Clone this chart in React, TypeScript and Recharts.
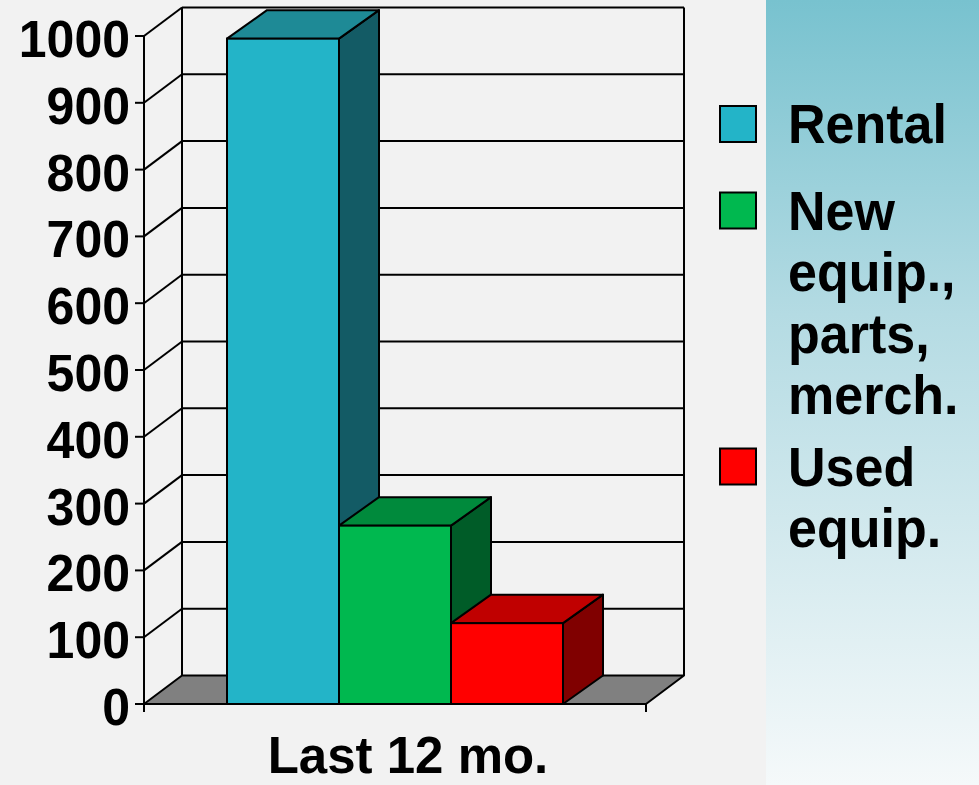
import React from 'react';
import { BarChart, Bar, XAxis, YAxis, CartesianGrid } from 'recharts';

// ---- data ----
const categories = ['Last 12 mo.'];
const seriesNames = ['Rental', 'New equip., parts, merch.', 'Used equip.'];
const rentalValues = [996];
const newEquipValues = [267];
const usedEquipValues = [121];
const yTicks = [0, 100, 200, 300, 400, 500, 600, 700, 800, 900, 1000];
const legendLines = [['Rental'], ['New', 'equip.,', 'parts,', 'merch.'], ['Used', 'equip.']];

// ---- styles / layout ----
const W = 979;
const H = 785;
const PLOT_TOP = 36;
const PLOT_BOTTOM = 704;
const WALL_DX = 38;
const BAR_DX = 40;
const DEPTH_DY = 28.5;
const FONT = '"Liberation Sans", Arial, sans-serif';

const FACES = [
  { front: '#23B4C8', top: '#1E8A96', side: '#135B65' },
  { front: '#00B84F', top: '#008A3C', side: '#005C28' },
  { front: '#FF0000', top: '#C00000', side: '#800000' },
];
const LEGEND_BASELINES = [143, 229.5, 485.5];
const LEGEND_LINE_H = 61.5;

const data = categories.map((c, i) => ({
  name: c,
  rental: rentalValues[i],
  newEquip: newEquipValues[i],
  used: usedEquipValues[i],
}));
const keys = ['rental', 'newEquip', 'used'];

function Box3D(props: any) {
  const { x, y, width, height, faces } = props;
  if (x == null || y == null) return null;
  const x2 = x + width;
  const yb = y + height;
  const sw = 2;
  return (
    <g>
      <polygon
        points={`${x2},${y} ${x2 + BAR_DX},${y - DEPTH_DY} ${x2 + BAR_DX},${yb - DEPTH_DY} ${x2},${yb}`}
        fill={faces.side}
        stroke="#000"
        strokeWidth={sw}
        strokeLinejoin="round"
      />
      <polygon
        points={`${x},${y} ${x + BAR_DX},${y - DEPTH_DY} ${x2 + BAR_DX},${y - DEPTH_DY} ${x2},${y}`}
        fill={faces.top}
        stroke="#000"
        strokeWidth={sw}
        strokeLinejoin="round"
      />
      <rect x={x} y={y} width={width} height={height} fill={faces.front} stroke="#000" strokeWidth={sw} />
    </g>
  );
}

function gridLine(props: any) {
  const { x1, x2, y1, key } = props;
  const y = y1;
  const bx1 = x1 + WALL_DX;
  const bx2 = x2 + WALL_DX;
  const by = y - DEPTH_DY;
  if (Math.abs(y - PLOT_BOTTOM) < 1) {
    return (
      <g key={key}>
        <polygon
          points={`${x1},${y} ${x2},${y} ${bx2},${by} ${bx1},${by}`}
          fill="#808080"
          stroke="#000"
          strokeWidth={2}
          strokeLinejoin="round"
        />
        <line x1={x1} y1={y} x2={x1} y2={y + 8} stroke="#000" strokeWidth={2} />
        <line x1={x2} y1={y} x2={x2} y2={y + 8} stroke="#000" strokeWidth={2} />
      </g>
    );
  }
  const isTop = Math.abs(y - PLOT_TOP) < 1;
  return (
    <g key={key}>
      <line x1={x1} y1={y} x2={bx1} y2={by} stroke="#000" strokeWidth={2} />
      <line x1={bx1} y1={by} x2={bx2} y2={by} stroke="#000" strokeWidth={2} />
      {isTop && (
        <>
          <line x1={bx1} y1={by} x2={bx1} y2={PLOT_BOTTOM - DEPTH_DY} stroke="#000" strokeWidth={2} />
          <line x1={bx2} y1={by} x2={bx2} y2={PLOT_BOTTOM - DEPTH_DY} stroke="#000" strokeWidth={2} />
        </>
      )}
    </g>
  );
}

function YTick(props: any) {
  const { x, y, payload } = props;
  return (
    <g transform={`translate(${x},${y + 21}) scale(1,1.05)`}>
      <text x={0} y={0} textAnchor="end" fontFamily={FONT} fontWeight="bold" fontSize={50} fill="#000">
        {payload.value}
      </text>
    </g>
  );
}

function XTick(props: any) {
  const { x, payload } = props;
  return (
    <g transform={`translate(${x + 13},${PLOT_BOTTOM + 69}) scale(1,1.03)`}>
      <text x={0} y={0} textAnchor="middle" fontFamily={FONT} fontWeight="bold" fontSize={51} fill="#000">
        {payload.value}
      </text>
    </g>
  );
}

function Legend3D() {
  return (
    <svg width={W} height={H} style={{ position: 'absolute', left: 0, top: 0, pointerEvents: 'none' }}>
      {seriesNames.map((name, i) => {
        const base = LEGEND_BASELINES[i];
        return (
          <g key={name}>
            <rect x={720} y={base - 37} width={36} height={36} fill={FACES[i].front} stroke="#000" strokeWidth={2} />
            {legendLines[i].map((ln, j) => (
              <g key={j} transform={`translate(788,${base + j * LEGEND_LINE_H}) scale(1,1.07)`}>
                <text x={0} y={0} fontFamily={FONT} fontWeight="bold" fontSize={52} fill="#000">
                  {ln}
                </text>
              </g>
            ))}
          </g>
        );
      })}
    </svg>
  );
}

export default function App() {
  return (
    <div style={{ position: 'absolute', left: 0, top: 0, width: W, height: H, overflow: 'hidden', background: '#F2F2F2' }}>
      <div
        style={{
          position: 'absolute',
          left: 766,
          top: 0,
          width: W - 766,
          height: H,
          background: 'linear-gradient(to bottom, #78C2CF 0%, #B4DBE3 40%, #F5F9FA 100%)',
        }}
      />
      <div style={{ position: 'absolute', left: 0, top: 0 }}>
        <BarChart
          width={W}
          height={H}
          data={data}
          margin={{ top: PLOT_TOP, right: W - 646, bottom: 0, left: 0 }}
          barGap={0}
          barSize={112}
        >
          <CartesianGrid horizontal={gridLine} vertical={false} />
          <XAxis
            dataKey="name"
            height={H - PLOT_BOTTOM}
            axisLine={{ stroke: '#000', strokeWidth: 2 }}
            tickLine={false}
            tick={<XTick />}
            interval={0}
          />
          <YAxis
            type="number"
            width={144}
            domain={[0, 1000]}
            ticks={yTicks}
            interval={0}
            tickSize={9}
            tickMargin={5}
            axisLine={{ stroke: '#000', strokeWidth: 2 }}
            tickLine={{ stroke: '#000', strokeWidth: 2 }}
            tick={<YTick />}
          />
          {keys.map((k, i) => (
            <Bar
              key={k}
              dataKey={k}
              name={seriesNames[i]}
              isAnimationActive={false}
              fill={FACES[i].front}
              shape={(p: any) => <Box3D {...p} faces={FACES[i]} />}
            />
          ))}
        </BarChart>
      </div>
      <Legend3D />
    </div>
  );
}
